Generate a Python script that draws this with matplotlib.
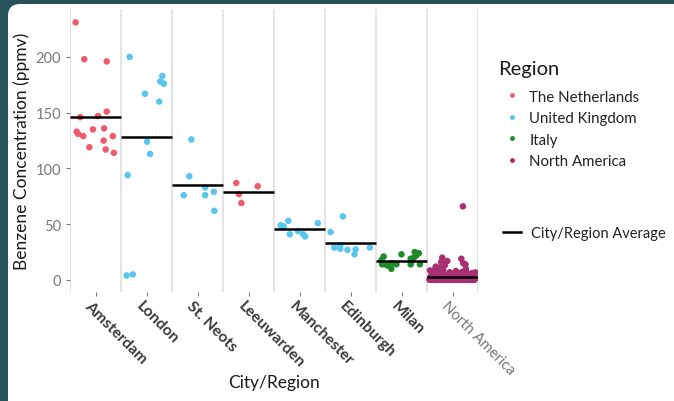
import numpy as np
import matplotlib.pyplot as plt
from matplotlib.patches import FancyBboxPatch
from matplotlib.lines import Line2D

plt.rcParams['font.family'] = ['Lato', 'DejaVu Sans']

cities = ['Amsterdam', 'London', 'St. Neots', 'Leeuwarden', 'Manchester',
          'Edinburgh', 'Milan', 'North America']
city_region = ['The Netherlands', 'United Kingdom', 'United Kingdom', 'The Netherlands',
               'United Kingdom', 'United Kingdom', 'Italy', 'North America']
regions = ['The Netherlands', 'United Kingdom', 'Italy', 'North America']
region_colors = ['#ef5b6c', '#58c6ee', '#1f8a27', '#a82f71']

# concentrations (ppmv) per city, with the jitter
amsterdam = [231, 198, 196, 151, 146, 147, 133, 131, 129, 135, 136, 129, 125, 119, 117, 114]
amsterdam_jit = [-0.39, -0.22, 0.22, 0.22, -0.30, 0.05, -0.37, -0.34, -0.24, -0.05, 0.17, 0.34, 0.16, -0.12, 0.20, 0.36]
london = [200, 167, 183, 178, 176, 160, 124, 113, 94, 4, 5]
london_jit = [-0.33, -0.03, 0.31, 0.27, 0.34, 0.25, 0.01, 0.07, -0.37, -0.39, -0.27]
st_neots = [126, 93, 76, 83, 76, 79, 62]
st_neots_jit = [-0.12, -0.16, -0.27, 0.15, 0.15, 0.32, 0.33]
leeuwarden = [87, 84, 77, 69]
leeuwarden_jit = [-0.24, 0.18, -0.19, -0.14]
manchester = [53, 49, 48, 51, 44, 41, 41, 39]
manchester_jit = [-0.22, -0.37, -0.31, 0.36, -0.03, -0.19, 0.07, 0.11]
edinburgh = [57, 43, 29, 31, 28, 27, 27.5, 23, 29]
edinburgh_jit = [-0.15, -0.39, -0.32, -0.20, -0.20, -0.06, 0.10, 0.08, 0.38]
milan = [21, 23, 25, 24, 20, 22, 17, 14, 14, 14, 10, 13, 14, 18, 19, 15]
milan_jit = [-0.35, 0.00, 0.26, 0.34, 0.24, 0.29, 0.19, 0.36, 0.18, -0.10, -0.20, -0.28, -0.38, -0.39, 0.18, -0.18]
north_america = [
    0.2, 0.5, 1.1, 0.3, 2.0, 0.8, 1.5, 0.1, 3.2, 0.6,
    0.4, 1.8, 0.2, 2.6, 0.9, 0.3, 1.2, 4.5, 0.7, 0.1,
    2.2, 0.5, 1.4, 0.2, 3.8, 0.9, 0.4, 1.6, 0.3, 6.0,
    0.8, 0.1, 2.9, 0.6, 1.0, 0.2, 5.2, 0.4, 1.3, 0.7,
    0.3, 2.4, 0.5, 8.0, 0.1, 1.7, 0.6, 3.5, 0.2, 0.9,
    1.1, 0.4, 12.0, 0.3, 2.1, 0.8, 0.1, 4.0, 0.5, 1.5,
    0.2, 7.0, 0.6, 1.9, 0.3, 0.9, 10.0, 0.4, 2.7, 0.1,
    1.2, 0.5, 3.0, 0.7, 15.0, 0.2, 1.4, 0.8, 5.5, 0.3,
    0.6, 2.3, 0.1, 9.0, 0.9, 0.4, 1.8, 0.2, 17.0, 0.5,
    1.0, 0.3, 4.8, 0.7, 2.5, 0.1, 13.0, 0.6, 1.6, 0.4,
    0.2, 3.3, 0.8, 0.5, 20.0, 1.3, 0.1, 6.5, 0.9, 0.3,
    2.0, 0.6, 11.0, 0.2, 1.1, 0.7, 19.0, 0.4, 3.6, 0.1,
    0.5, 14.0, 0.8, 2.2, 0.3, 16.0, 0.6, 1.7, 0.2, 66.0,
    0.1, 2.8, 0.4, 5.8, 0.2, 1.2, 0.7, 4.2, 0.3, 2.0,
    0.6, 0.1, 3.4, 0.9, 6.8, 0.2, 1.5, 0.5, 2.6, 0.3,
    4.6, 0.8, 0.1, 1.9, 0.4, 7.5, 0.2, 3.0, 0.6, 1.1,
    0.3, 5.0, 0.1, 2.4, 0.7, 0.2, 3.9, 0.5, 1.4, 6.2,
    0.2, 0.9, 4.4, 0.1, 1.7, 0.4, 2.9, 0.6, 8.5, 0.3,
    1.0, 0.2, 3.6, 0.5, 5.4, 0.1, 2.2, 0.8, 0.3, 4.0,
    0.6, 7.2, 0.2, 1.3, 0.4, 3.1, 0.1, 5.9, 0.9, 2.5,
    0.3, 1.6, 0.5, 4.8, 0.2, 6.6, 0.7, 0.1, 2.7, 3.7,
    0.4, 5.1, 0.2, 1.8, 0.6, 3.3, 0.1, 9.5, 0.8, 2.1,
    0.3, 4.3, 0.5, 1.2, 6.9, 0.2, 2.3, 0.7, 3.8, 0.1,
]
averages = [146, 128, 85, 79, 46, 33, 17, 2.4]

city_values = [amsterdam, london, st_neots, leeuwarden, manchester, edinburgh, milan, north_america]
city_jitter = [amsterdam_jit, london_jit, st_neots_jit, leeuwarden_jit, manchester_jit,
               edinburgh_jit, milan_jit, None]

fig = plt.figure(figsize=(6.74, 4.02), dpi=100, facecolor='#28525a')
card = FancyBboxPatch((8, -12), 700, 409, boxstyle='round,pad=0,rounding_size=12',
                      transform=None, facecolor='white', edgecolor='none', zorder=-5)
fig.patches.append(card)

ax = fig.add_axes([70 / 674, 1 - 293 / 402, 408 / 674, 283 / 402])
ax.set_facecolor('none')

for i, vals in enumerate(city_values):
    x0 = i + 1
    color = region_colors[regions.index(city_region[i])]
    jit = city_jitter[i]
    if jit is None:
        # even spread over the column (golden-ratio sequence)
        jit = ((np.arange(len(vals)) * 0.618034) % 1 - 0.5) * 0.9
    ax.scatter(x0 + np.array(jit), vals, s=22, color=color, edgecolors='none', zorder=3)
    ax.plot([x0 - 0.5, x0 + 0.5], [averages[i], averages[i]], color='black', lw=1.8,
            solid_capstyle='butt', zorder=4)

for b in np.arange(0.5, len(cities) + 1, 1):
    ax.axvline(b, color='#dcdcdc', lw=1.1, zorder=1)

ax.set_xlim(0.5, len(cities) + 0.5)
ax.set_ylim(-10.8, 243)
ax.set_yticks([0, 50, 100, 150, 200])
ax.tick_params(axis='y', colors='#7a7a7a', labelsize=10.5, length=3, width=0.8)
ax.tick_params(axis='x', colors='#7a7a7a', length=3, width=0.8)
ax.set_xticks(range(1, len(cities) + 1))
ax.set_xticklabels([])
for s in ax.spines.values():
    s.set_visible(False)

for i, name in enumerate(cities):
    if name == 'North America':
        kw = dict(color='#777777', fontweight='normal', fontsize=10.8)
    else:
        kw = dict(color='#3a3a3a', fontweight='bold', fontsize=11.3)
    ax.annotate(name, xy=(i + 1, 0), xycoords=('data', 'axes fraction'),
                xytext=(-6, -8), textcoords='offset points', rotation=-45,
                rotation_mode='anchor', ha='left', va='center', **kw)

ax.set_ylabel('Benzene Concentration (ppmv)', fontsize=12.5, color='#1a1a1a', labelpad=4)
fig.text(274 / 674, 1 - 383 / 402, 'City/Region', fontsize=12.5, color='#1a1a1a',
         ha='center', va='center')

fig.text(498 / 674, 1 - 70 / 402, 'Region', fontsize=14.5, color='#1a1a1a',
         ha='left', va='center')
region_handles = [Line2D([], [], marker='o', ls='none', color=c, markersize=3.5, markeredgewidth=0)
                  for c in region_colors]
fig.legend(region_handles, regions, loc='upper left',
           bbox_to_anchor=(491 / 674, 1 - 77 / 402), frameon=False, fontsize=10.8,
           handlelength=1.0, handletextpad=0.65, labelspacing=0.5, labelcolor='#222222')
avg_handle = [Line2D([], [], color='black', lw=1.8)]
fig.legend(avg_handle, ['City/Region Average'], loc='upper left',
           bbox_to_anchor=(490 / 674, 1 - 214 / 402), frameon=False, fontsize=10.5,
           handlelength=1.2, handletextpad=0.7, labelcolor='#222222')

fig.savefig('out.png', dpi=100, facecolor=fig.get_facecolor())
